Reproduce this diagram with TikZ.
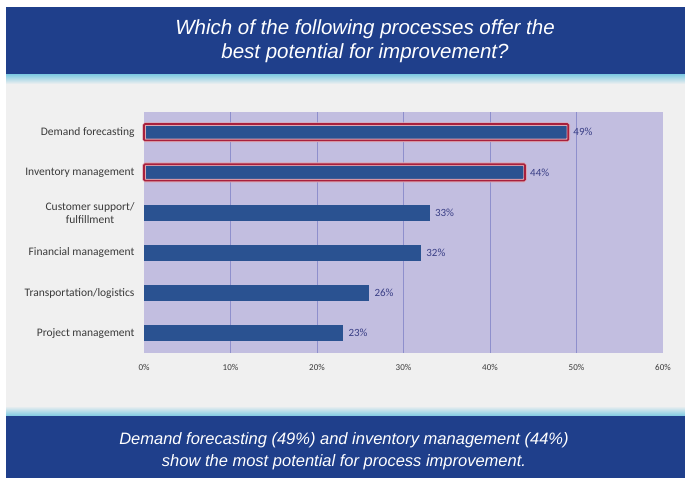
\documentclass[tikz,border=0pt]{standalone}
\usepackage{fontspec}
\setmainfont{Liberation Sans}
\newfontfamily\chartfont{Carlito}
\usetikzlibrary{positioning}

\definecolor{bannerblue}{HTML}{1F3F8B}
\definecolor{stripcyan}{HTML}{7CC9E2}
\definecolor{pagegray}{HTML}{F0F0F0}
\definecolor{plotlilac}{HTML}{C2BEE0}
\definecolor{gridblue}{HTML}{8E8FCC}
\definecolor{barblue}{HTML}{2A5291}
\definecolor{hired}{HTML}{A8203D}
\definecolor{catgray}{HTML}{3A3A3A}
\definecolor{valblue}{HTML}{3A3F86}

\tikzset{
    banner/.style={fill=bannerblue, draw=none},
    bannertext/.style={text=white, align=center, font=\fontsize{20.5}{24}\selectfont\itshape},
    gridline/.style={draw=gridblue, line width=0.6pt},
    barbox/.style={fill=barblue, draw=none, inner sep=0pt, minimum height=16pt, anchor=west},
    catlabel/.style={text=catgray, align=center, font=\chartfont\fontsize{11.5}{13}\selectfont},
    vallabel/.style={text=valblue, inner sep=0pt, font=\chartfont\fontsize{11}{13}\selectfont},
    ticklabel/.style={text=catgray, font=\chartfont\fontsize{9}{10}\selectfont},
    glow/.style={draw=hired!40, line width=3.5pt, rounded corners=1.5pt},
    hiline/.style={draw=hired, line width=1.6pt, rounded corners=1pt}
}

\begin{document}
\begin{tikzpicture}[x=1pt,y=-1pt]
    \useasboundingbox (0,0) rectangle (685,482);
    \fill[white] (0,0) rectangle (685,482);

    % background and banners
    \fill[pagegray] (6,80) rectangle (685,412);
    \fill[banner] (6,7) rectangle (685,74);
    \shade[top color=stripcyan, bottom color=pagegray] (6,74) rectangle (685,84);
    \shade[top color=pagegray, bottom color=stripcyan] (6,406) rectangle (685,416);
    \fill[banner] (6,416) rectangle (685,478);

    \node[bannertext] (title) at (365,41) {Which of the following processes offer the\\best potential for improvement?};
    \node[bannertext, font=\fontsize{16.5}{22}\selectfont\itshape] (summary) at (344,451)
        {Demand forecasting (49\%) and inventory management (44\%)\\show the most potential for process improvement.};

    % plot area
    \fill[plotlilac] (144,112) rectangle (663,353);
    \foreach \k in {1,...,5}
        \draw[gridline] ({144+86.5*\k},112) -- ({144+86.5*\k},353);
    \foreach \k/\t in {0/0,1/10,2/20,3/30,4/40,5/50,6/60}
        \node[ticklabel] (tick\k) at ({144+86.5*\k},367) {\t\%};

    % bars
    \foreach \i/\pct/\txt in {1/49/{Demand forecasting}, 2/44/{Inventory management},
            3/33/{Customer support/\\fulfillment}, 4/32/{Financial management},
            5/26/{Transportation/logistics}, 6/23/{Project management}} {
        \node[barbox, minimum width={8.65pt*\pct}] (bar\i) at (144,{92+40.2*\i}) {};
        \node[catlabel, left=6pt of bar\i.west] (cat\i) {\txt};
        \node[vallabel, right=5pt of bar\i.east] (val\i) {\pct\%};
    }

    % highlighted bars
    \foreach \i in {1,2} {
        \draw[glow] (bar\i.south west) rectangle (bar\i.north east);
        \draw[hiline] (bar\i.south west) rectangle (bar\i.north east);
    }
\end{tikzpicture}
\end{document}
